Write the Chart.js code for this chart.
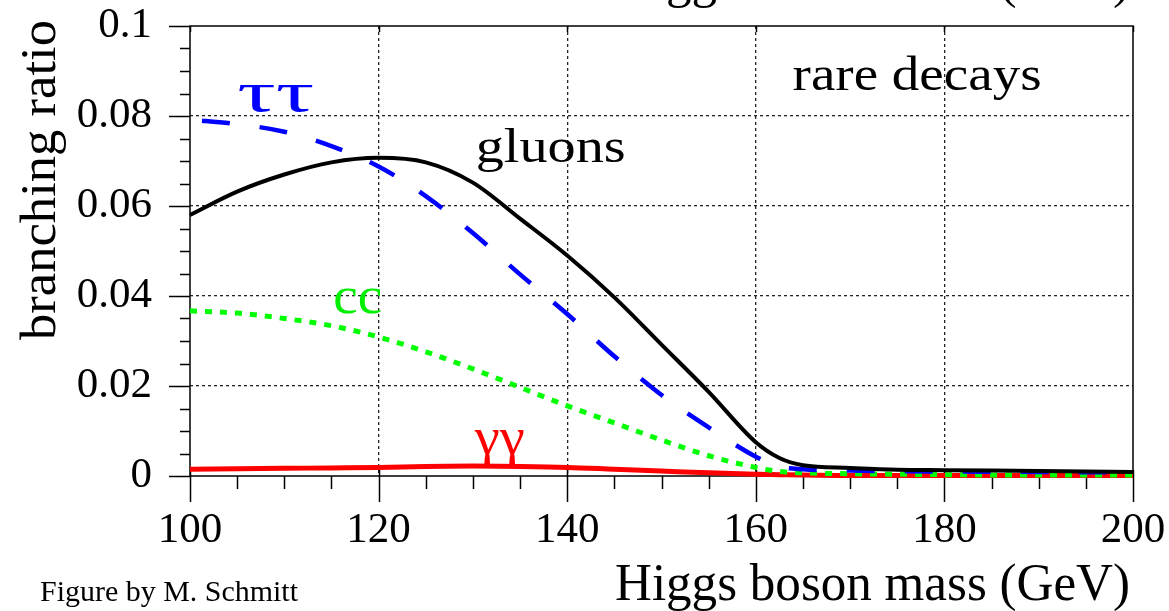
<!DOCTYPE html>
<html>
<head>
<meta charset="utf-8">
<script src="https://cdn.jsdelivr.net/npm/chart.js@4.4.1/dist/chart.umd.min.js"></script>
<style>
  html, body { margin: 0; padding: 0; background: #fff; }
  canvas { display: block; }
</style>
</head>
<body>
<canvas id="br" width="1169" height="611"></canvas>
<script>
// Higgs mass (GeV) and branching ratios
const MASS    = [100, 105, 110, 115, 120, 125, 130, 135, 140, 145, 150, 155, 160, 162.5, 165, 170, 175, 180, 190, 200];
const GLUONS  = [0.0580, 0.0632, 0.0670, 0.0697, 0.0707, 0.0697, 0.0652, 0.0572, 0.0490, 0.0397, 0.0292, 0.0187, 0.0075, 0.0040, 0.0024, 0.0018, 0.0014, 0.0013, 0.0011, 0.0009];
const TAUTAU  = [0.0792, 0.0782, 0.0765, 0.0733, 0.0688, 0.0622, 0.0540, 0.0448, 0.0360, 0.0266, 0.0180, 0.0108, 0.0043, 0.0021, 0.0015, 0.0012, 0.0011, 0.0010, 0.0009, 0.0008];
const CHARM   = [0.0367, 0.0362, 0.0350, 0.0334, 0.0309, 0.0276, 0.0238, 0.0197, 0.0156, 0.0118, 0.0080, 0.0045, 0.0019, 0.0010, 0.0007, 0.0005, 0.0004, 0.0003, 0.0002, 0.0002];
const GAMGAM  = [0.0015, 0.0016, 0.0017, 0.0018, 0.0019, 0.0021, 0.0022, 0.0021, 0.0019, 0.0015, 0.0011, 0.0007, 0.0004, 0.0003, 0.0002, 0.0001, 0.0001, 0.0001, 0.0001, 0.0001];

// axes
const X_MIN = 100, X_MAX = 200, X_STEP = 20, X_MINOR = 5;
const Y_MIN = 0, Y_MAX = 0.1, Y_STEP = 0.02, Y_MINOR = 0.005;
const Y_LABELS = ["0", "0.02", "0.04", "0.06", "0.08", "0.1"];

const SERIF = "'Liberation Serif', 'Times New Roman', serif";

const pts = ys => MASS.map((m, i) => ({ x: m, y: ys[i] }));

// texte étiré horizontalement pour tenir dans une largeur donnée
function fitText(ctx, str, x, y, size, width, color) {
  ctx.save();
  ctx.font = `${size}px ${SERIF}`;
  ctx.fillStyle = color;
  ctx.textBaseline = "alphabetic";
  ctx.textAlign = "left";
  const sx = width / ctx.measureText(str).width;
  ctx.translate(x, y);
  ctx.scale(sx, 1);
  ctx.fillText(str, 0, 0);
  ctx.restore();
}

// cadre + graduations majeures/mineures
const frame = {
  id: "frame",
  beforeDatasetsDraw(chart) {
    const { ctx, chartArea: a, scales: { x, y } } = chart;
    const seg = (x1, y1, x2, y2) => { ctx.moveTo(x1, y1); ctx.lineTo(x2, y2); };
    ctx.save();
    ctx.strokeStyle = "#000";
    ctx.lineWidth = 1.5;
    ctx.beginPath();
    ctx.rect(a.left, a.top, a.right - a.left, a.bottom - a.top);
    for (let v = Y_MIN; v <= Y_MAX + 1e-9; v += Y_MINOR) {
      const py = Math.round(y.getPixelForValue(v)) + 0.5;
      const major = Math.abs(v / Y_STEP - Math.round(v / Y_STEP)) < 1e-6;
      seg(a.left - (major ? 21 : 10), py, a.left, py);
    }
    for (let v = X_MIN; v <= X_MAX; v += X_MINOR) {
      const px = Math.round(x.getPixelForValue(v)) + 0.5;
      const major = v % X_STEP === 0;
      seg(px, a.bottom, px, a.bottom + (major ? 26 : 13));
      if (major) { seg(px, a.bottom, px, a.bottom - 6); seg(px, a.top, px, a.top + 6); }
    }
    ctx.stroke();
    ctx.restore();
  },
  afterDraw(chart) {
    const { ctx, scales: { x, y } } = chart;
    const X = v => x.getPixelForValue(v), Y = v => y.getPixelForValue(v);

    // étiquettes des courbes
    fitText(ctx, "ττ", X(105), Y(0.0812), 56, 77, "#0000ff");
    fitText(ctx, "gluons", X(130.3), Y(0.0697), 48, 150, "#000");
    fitText(ctx, "cc", X(115.2), Y(0.0363), 52, 49, "#00ee00");
    fitText(ctx, "γγ", X(130.2), Y(0.0050), 52, 50, "#ff0000");
    fitText(ctx, "rare decays", X(163.9), Y(0.0858), 48, 249, "#000");

    // titres
    fitText(ctx, "Higgs boson mass (GeV)", 615, 600, 52, 515, "#000");
    fitText(ctx, "Higgs boson mass (GeV)", 615, -3, 52, 515, "#000");
    fitText(ctx, "Figure by M. Schmitt", 40, 601, 29, 258, "#000");

    ctx.save();
    ctx.translate(55, 340);
    ctx.rotate(-Math.PI / 2);
    fitText(ctx, "branching ratio", 0, 0, 50, 320, "#000");
    ctx.restore();
  }
};

const gridColor = c => (c.tick && (c.tick.value === c.scale.min || c.tick.value === c.scale.max)) ? "rgba(0,0,0,0)" : "#222";

new Chart(document.getElementById("br"), {
  type: "line",
  data: {
    datasets: [
      { label: "gluons", data: pts(GLUONS), borderColor: "#000", borderWidth: 4 },
      { label: "ττ", data: pts(TAUTAU), borderColor: "#0000ff", borderWidth: 4.5, borderDash: [28, 30], borderDashOffset: 46 },
      { label: "cc", data: pts(CHARM), borderColor: "#00ff00", borderWidth: 5, borderDash: [7, 8] },
      { label: "γγ", data: pts(GAMGAM), borderColor: "#ff0000", borderWidth: 5 }
    ].map(d => Object.assign(d, { pointRadius: 0, fill: false, clip: 8, borderCapStyle: "butt", cubicInterpolationMode: "monotone" }))
  },
  options: {
    responsive: false,
    animation: false,
    events: [],
    layout: { padding: { top: 26, right: 36, left: 0, bottom: 0 } },
    plugins: { legend: { display: false }, tooltip: { enabled: false } },
    scales: {
      x: {
        type: "linear", min: X_MIN, max: X_MAX,
        border: { display: false, dash: [3, 3] },
        grid: { color: gridColor, lineWidth: 1.3, drawTicks: false },
        ticks: { stepSize: X_STEP, padding: 29, color: "#000", maxRotation: 0,
                 font: { family: SERIF, size: 43 } },
        afterFit: s => { s.height = 135; s.paddingLeft = 0; s.paddingRight = 0; }
      },
      y: {
        min: Y_MIN, max: Y_MAX,
        border: { display: false, dash: [3, 3] },
        grid: { color: gridColor, lineWidth: 1.3, drawTicks: false },
        ticks: { stepSize: Y_STEP, padding: 38, color: "#000",
                 font: { family: SERIF, size: 43 },
                 callback: (v, i) => Y_LABELS[i] },
        afterFit: s => { s.width = 190; s.paddingTop = 0; s.paddingBottom = 0; }
      }
    }
  },
  plugins: [frame]
});
</script>
</body>
</html>
